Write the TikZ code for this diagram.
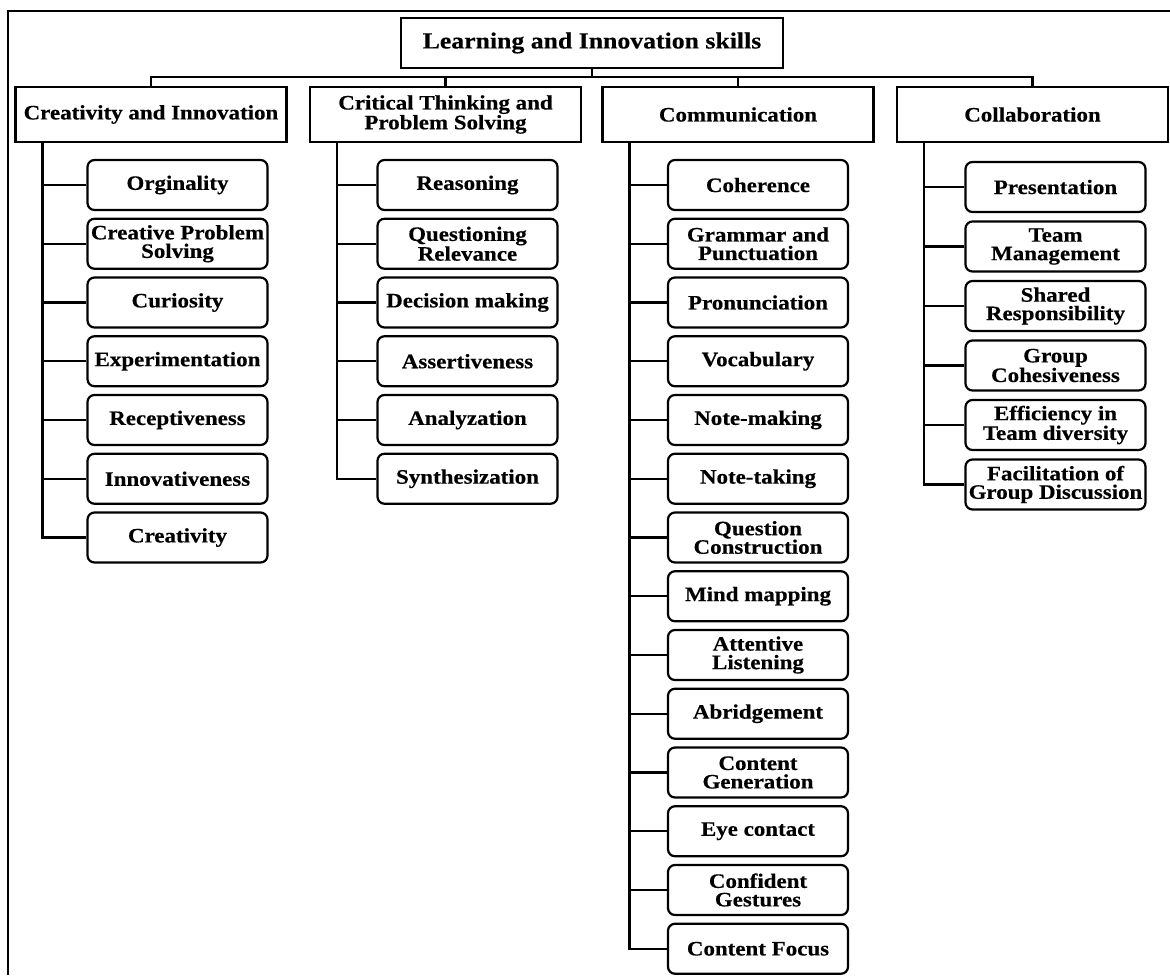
\documentclass[tikz,border=0pt]{standalone}
\usepackage{fontspec}
\newfontfamily\skillfont{Liberation Serif}[FakeStretch=1.12, BoldFeatures={FakeBold=0.4}]
\tikzset{
  skill/.style={draw, line width=2.2pt, align=center, inner sep=0pt,
    font=\skillfont\bfseries\fontsize{20.5}{18.5}\selectfont},
  headbox/.style={skill, minimum width=382pt, minimum height=50pt,
    font=\skillfont\bfseries\fontsize{23}{26}\selectfont},
  groupbox/.style={skill, minimum width=271pt, minimum height=55pt},
  leafbox/.style={skill, rounded corners=7pt, minimum width=180pt, minimum height=50pt},
  link/.style={line width=2.2pt}
}
\begin{document}
\begin{tikzpicture}[x=1pt,y=-1pt]
        \useasboundingbox (0,0) rectangle (1170,975);
        %% Frame
        \draw[line width=2pt] (8,975) -- (8,11) -- (1170,11);
        %% Top
        \node[headbox] (lis) at (592,43) {Learning and Innovation skills};
        %% Groups
        \node[groupbox] (cre) at (151,114.5) {Creativity and Innovation};
        \node[groupbox] (crt) at (445.5,114.5) {Critical Thinking and\\Problem Solving};
        \node[groupbox] (com) at (738,114.5) {Communication};
        \node[groupbox] (col) at (1032.5,114.5) {Collaboration};
        %% Bus
        \coordinate (bus) at (592,77);
        \draw[link] (lis.south) -- (lis.south |- bus);
        \draw[link] (cre.north) |- (bus) -| (col.north);
        \draw[link] (crt.north) -- (crt.north |- bus);
        \draw[link] (com.north) -- (com.north |- bus);
        %% Creativity and Innovation
        \foreach \t [count=\i] in {Orginality, {Creative Problem\\Solving}, Curiosity,
            Experimentation, Receptiveness, Innovativeness, Creativity}
          \node[leafbox] (cre\i) at (177.5,{185+58.75*(\i-1)}) {\t};
        \coordinate (t1) at ([xshift=28pt]cre.south west);
        \draw[link] (t1) |- (cre7.west);
        \foreach \i in {1,...,6} \draw[link] (cre\i.west) -- (cre\i.west -| t1);
        %% Critical Thinking
        \foreach \t [count=\i] in {Reasoning, {Questioning\\Relevance}, Decision making,
            Assertiveness, Analyzation, Synthesization}
          \node[leafbox] (crt\i) at (467.5,{185+58.75*(\i-1)}) {\t};
        \coordinate (t2) at ([xshift=28pt]crt.south west);
        \draw[link] (t2) |- (crt6.west);
        \foreach \i in {1,...,5} \draw[link] (crt\i.west) -- (crt\i.west -| t2);
        %% Communication
        \foreach \t [count=\i] in {Coherence, {Grammar and\\Punctuation}, Pronunciation,
            Vocabulary, Note-making, Note-taking, {Question\\Construction}, Mind mapping,
            {Attentive\\Listening}, Abridgement, {Content\\Generation}, Eye contact,
            {Confident\\Gestures}, Content Focus}
          \node[leafbox] (com\i) at (758,{185+58.75*(\i-1)}) {\t};
        \coordinate (t3) at ([xshift=28pt]com.south west);
        \draw[link] (t3) |- (com14.west);
        \foreach \i in {1,...,13} \draw[link] (com\i.west) -- (com\i.west -| t3);
        %% Collaboration
        \foreach \t [count=\i] in {Presentation, {Team\\Management}, {Shared\\Responsibility},
            {Group\\Cohesiveness}, {Efficiency in\\Team diversity}, {Facilitation of\\Group Discussion}}
          \node[leafbox] (col\i) at (1055.5,{187+59.5*(\i-1)}) {\t};
        \coordinate (t4) at ([xshift=28pt]col.south west);
        \draw[link] (t4) |- (col6.west);
        \foreach \i in {1,...,5} \draw[link] (col\i.west) -- (col\i.west -| t4);
\end{tikzpicture}
\end{document}
